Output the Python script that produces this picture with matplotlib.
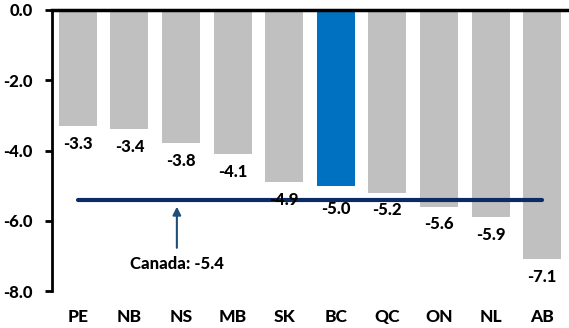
import matplotlib
matplotlib.use("Agg")
import matplotlib.pyplot as plt

provinces = ["PE", "NB", "NS", "MB", "SK", "BC", "QC", "ON", "NL", "AB"]
values = [-3.3, -3.4, -3.8, -4.1, -4.9, -5.0, -5.2, -5.6, -5.9, -7.1]
canada = -5.4
highlight = "BC"
yticks = [0, -2, -4, -6, -8]

plt.rcParams['font.family'] = ['Lato', 'DejaVu Sans']
W = 900

fig = plt.figure(figsize=(5.69, 3.28), dpi=100)
ax = fig.add_axes([52/569, 1 - 291/328, (568-52)/569, 281/328])

x = list(range(len(provinces)))
colors = ["#0070c0" if p == highlight else "#c0c0c0" for p in provinces]
ax.bar(x, values, width=0.74, color=colors, zorder=2)

for xi, v, p in zip(x, values, provinces):
    off = -11 if p == highlight else -7
    ax.annotate(f"{v:.1f}", (xi, v), xytext=(0, off), textcoords="offset points",
                ha="center", va="top", fontsize=12, fontweight=W, color="black", zorder=4)

ax.plot([x[0], x[-1]], [canada, canada], color="#0c2a66", lw=3, solid_capstyle="round", zorder=3)
ax.annotate("", xy=(1.92, canada - 0.12), xytext=(1.92, -6.85),
            arrowprops=dict(arrowstyle="-|>", color="#1f4e79", lw=1.5, mutation_scale=12))
ax.text(1.92, -7.22, f"Canada: {canada}", ha="center", va="center", fontsize=12, fontweight=W)

ax.set_xlim(-0.5, len(provinces) - 0.5)
ax.set_ylim(-8, 0)
ax.set_yticks(yticks)
ax.set_yticklabels([f"{t:.1f}" for t in yticks], fontsize=12, fontweight=W)
ax.set_xticks(x)
ax.set_xticklabels(provinces, fontsize=12.5, fontweight=W)
ax.tick_params(axis="x", length=0, pad=13)
ax.tick_params(axis="y", length=5, width=2, direction="out", pad=9)

for s in ["right", "bottom"]:
    ax.spines[s].set_visible(False)
ax.spines["left"].set_linewidth(2)
ax.spines["top"].set_linewidth(2.5)
ax.spines["top"].set_zorder(5)

fig.savefig("out.png", dpi=100)
